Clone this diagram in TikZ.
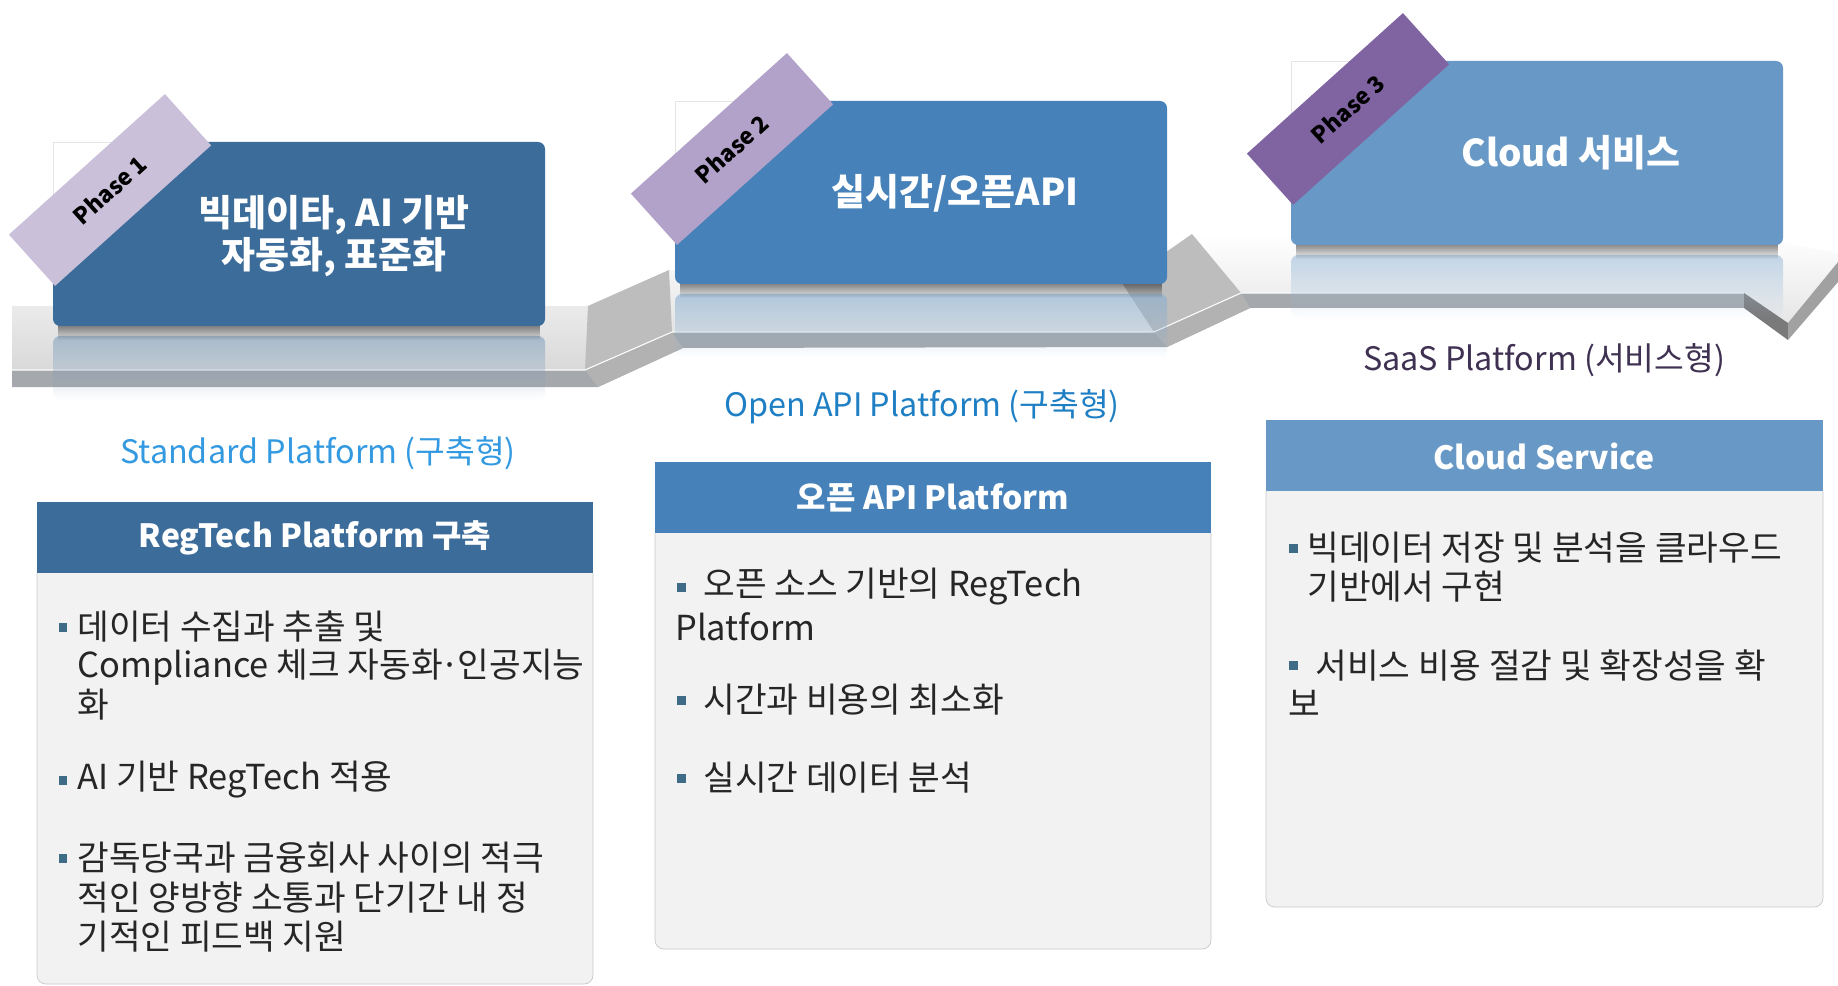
\documentclass[tikz,border=0pt]{standalone}
\usepackage{fontspec}
\setmainfont{Noto Sans CJK KR}
\usetikzlibrary{fadings}

\definecolor{boxa}{HTML}{3B6C9A}
\definecolor{boxb}{HTML}{4682B9}
\definecolor{boxc}{HTML}{6899C6}
\definecolor{ribbona}{HTML}{CBC0DA}
\definecolor{ribbonb}{HTML}{B2A2C9}
\definecolor{ribbonc}{HTML}{8064A2}
\definecolor{panelbg}{HTML}{F2F2F2}
\definecolor{panelline}{HTML}{C8C8C8}
\definecolor{bulletc}{HTML}{3E6B85}
\definecolor{bodyc}{HTML}{262626}
\definecolor{suba}{HTML}{3399E0}
\definecolor{subb}{HTML}{1F7FC4}
\definecolor{subc}{HTML}{3F3151}
\definecolor{floorface}{HTML}{A5A8AC}
\definecolor{rampface}{HTML}{BDBDBD}

\tikzfading[name=fadedown, top color=transparent!0, bottom color=transparent!100]

\begin{document}
\begin{tikzpicture}[x=0.02cm, y=-0.02cm,
    boxtitle/.style={text=white, font=\bfseries\fontsize{21}{24}\selectfont, align=center},
    headtxt/.style={text=white, font=\bfseries\fontsize{18.2}{22}\selectfont},
    subtitle/.style={font=\fontsize{18.4}{22}\selectfont},
    bodytxt/.style={anchor=west, inner sep=0pt, text=bodyc, font=\fontsize{19.6}{22}\selectfont},
    bullet/.style={fill=bulletc, inner sep=0pt, minimum size=0.18cm},
    phasetxt/.style={inner sep=1pt, rotate=42, font=\bfseries\fontsize{13}{15}\selectfont, text=black}]
    \useasboundingbox (0,0) rectangle (1838,986);

    % floor, top surfaces
    \shade[top color=white, bottom color=black!15]
        (12,306) -- (588,306) -- (669,270) -- (1122,272) -- (1192,234) -- (1784,243)
        -- (1838,253) -- (1838,262) -- (1788,323) -- (1744,293) -- (1241,293)
        -- (1154,332) -- (672,332) -- (585,370) -- (12,370) -- cycle;

    % floor, ramps
    \fill[rampface] (585,370) -- (588,306) -- (669,270) -- (672,332) -- cycle;
    \fill[rampface] (1154,332) -- (1122,283) -- (1192,234) -- (1241,293) -- cycle;

    % floor, front faces
    \fill[floorface] (12,370) -- (585,370) -- (672,332) -- (1154,332) -- (1241,293)
        -- (1744,293) -- (1744,308) -- (1250,308) -- (1167,347) -- (683,348)
        -- (598,387) -- (12,387) -- cycle;
    \fill[black!30] (585,370) -- (672,332) -- (683,348) -- (598,387) -- cycle;
    \fill[black!30] (1154,332) -- (1241,293) -- (1250,308) -- (1167,347) -- cycle;
    \fill[black!52] (1744,293) -- (1788,323) -- (1788,340) -- (1744,308) -- cycle;
    \fill[black!37] (1788,323) -- (1838,262) -- (1838,282) -- (1788,340) -- cycle;
    \draw[white, line width=0.6pt] (12,370) -- (585,370) -- (672,332) -- (1154,332)
        -- (1241,293) -- (1744,293);

    % reflections
    \fill[boxa!65!white, opacity=0.6, path fading=fadedown, rounded corners=4pt] (53,336) rectangle (545,400);
    \fill[boxb!65!white, opacity=0.6, path fading=fadedown, rounded corners=4pt] (675,294) rectangle (1167,358);
    \fill[boxc!65!white, opacity=0.6, path fading=fadedown, rounded corners=4pt] (1291,255) rectangle (1783,319);

    % shadows
    \fill[black, opacity=0.5, path fading=fadedown] (58,324) rectangle (540,340);
    \fill[black, opacity=0.5, path fading=fadedown] (680,282) rectangle (1162,298);
    \fill[black, opacity=0.5, path fading=fadedown] (1296,243) rectangle (1778,259);

    % phase boxes
    \fill[boxa, rounded corners=4pt] (53,142) rectangle (545,326);
    \fill[boxb, rounded corners=4pt] (675,101) rectangle (1167,284);
    \fill[boxc, rounded corners=4pt] (1291,61) rectangle (1783,245);

    % cut corners
    \fill[white] (51,140) -- (51,240) -- (160,140) -- cycle;
    \fill[white] (673,99) -- (673,199) -- (782,99) -- cycle;
    \fill[white] (1289,59) -- (1289,159) -- (1398,59) -- cycle;
    \draw[black!10] (53,197) -- (53,142) -- (113,142);
    \draw[black!10] (675,156) -- (675,101) -- (735,101);
    \draw[black!10] (1291,116) -- (1291,61) -- (1351,61);

    % phase ribbons
    \fill[ribbona, rotate around={42:(110,190)}] (5,155.5) rectangle (215,224.5);
    \fill[ribbonb, rotate around={42:(732,149)}] (627,114.5) rectangle (837,183.5);
    \fill[ribbonc, rotate around={42:(1348,109)}] (1243,74.5) rectangle (1453,143.5);
    \node[phasetxt] (ph1) at (110,190) {Phase 1};
    \node[phasetxt] (ph2) at (732,149) {Phase 2};
    \node[phasetxt] (ph3) at (1348,109) {Phase 3};

    % phase titles
    \node[boxtitle] (tt1) at (334,236) {빅데이타, AI 기반\\자동화, 표준화};
    \node[boxtitle] (tt2) at (955,193) {실시간/오픈API};
    \node[boxtitle] (tt3) at (1571,153) {Cloud 서비스};

    % platform names
    \node[subtitle, text=suba] (sub1) at (318,453) {Standard Platform (구축형)};
    \node[subtitle, text=subb] (sub2) at (922,407) {Open API Platform (구축형)};
    \node[subtitle, text=subc] (sub3) at (1544,360) {SaaS Platform (서비스형)};

    % panels
    \draw[panelline, fill=panelbg, rounded corners=5pt] (37,573) -- (37,984) -- (593,984) -- (593,573);
    \draw[panelline, fill=panelbg, rounded corners=5pt] (655,533) -- (655,949) -- (1211,949) -- (1211,533);
    \draw[panelline, fill=panelbg, rounded corners=5pt] (1266,491) -- (1266,907) -- (1823,907) -- (1823,491);
    \fill[boxa] (37,502) rectangle (593,573);
    \fill[boxb] (655,462) rectangle (1211,533);
    \fill[boxc] (1266,420) rectangle (1823,491);

    % panel heads
    \node[headtxt] (hd1) at (315,538) {RegTech Platform 구축};
    \node[headtxt] (hd2) at (933,498) {오픈 API Platform};
    \node[headtxt] (hd3) at (1544,456) {Cloud Service};

    % panel 1
    \node[bullet] (bl1) at (63,627) {};
    \node[bodytxt] (pa1) at (77,627) {데이터 수집과 추출 및};
    \node[bodytxt] (pa2) at (77,667) {Compliance 체크 자동화\kern-.06em·\kern-.06em인공지능};
    \node[bodytxt] (pa3) at (77,705) {화};
    \node[bullet] (bl2) at (63,780) {};
    \node[bodytxt] (pa4) at (77,780) {AI 기반 RegTech 적용};
    \node[bullet] (bl3) at (63,858) {};
    \node[bodytxt] (pa5) at (77,858) {감독당국과 금융회사 사이의 적극};
    \node[bodytxt] (pa6) at (77,897) {적인 양방향 소통과 단기간 내 정};
    \node[bodytxt] (pa7) at (77,937) {기적인 피드백 지원};

    % panel 2
    \node[bullet] (bl4) at (681,587) {};
    \node[bodytxt] (pb1) at (703,587) {오픈 소스 기반의 RegTech};
    \node[bodytxt] (pb2) at (675,627) {Platform};
    \node[bullet] (bl5) at (681,700) {};
    \node[bodytxt] (pb3) at (703,700) {시간과 비용의 최소화};
    \node[bullet] (bl6) at (681,778) {};
    \node[bodytxt] (pb4) at (703,778) {실시간 데이터 분석};

    % panel 3
    \node[bullet] (bl7) at (1293,548) {};
    \node[bodytxt] (pc1) at (1307,548) {빅데이터 저장 및 분석을 클라우드};
    \node[bodytxt] (pc2) at (1307,587) {기반에서 구현};
    \node[bullet] (bl8) at (1293,665) {};
    \node[bodytxt] (pc3) at (1315,665) {서비스 비용 절감 및 확장성을 확};
    \node[bodytxt] (pc4) at (1288,703) {보};
\end{tikzpicture}
\end{document}
